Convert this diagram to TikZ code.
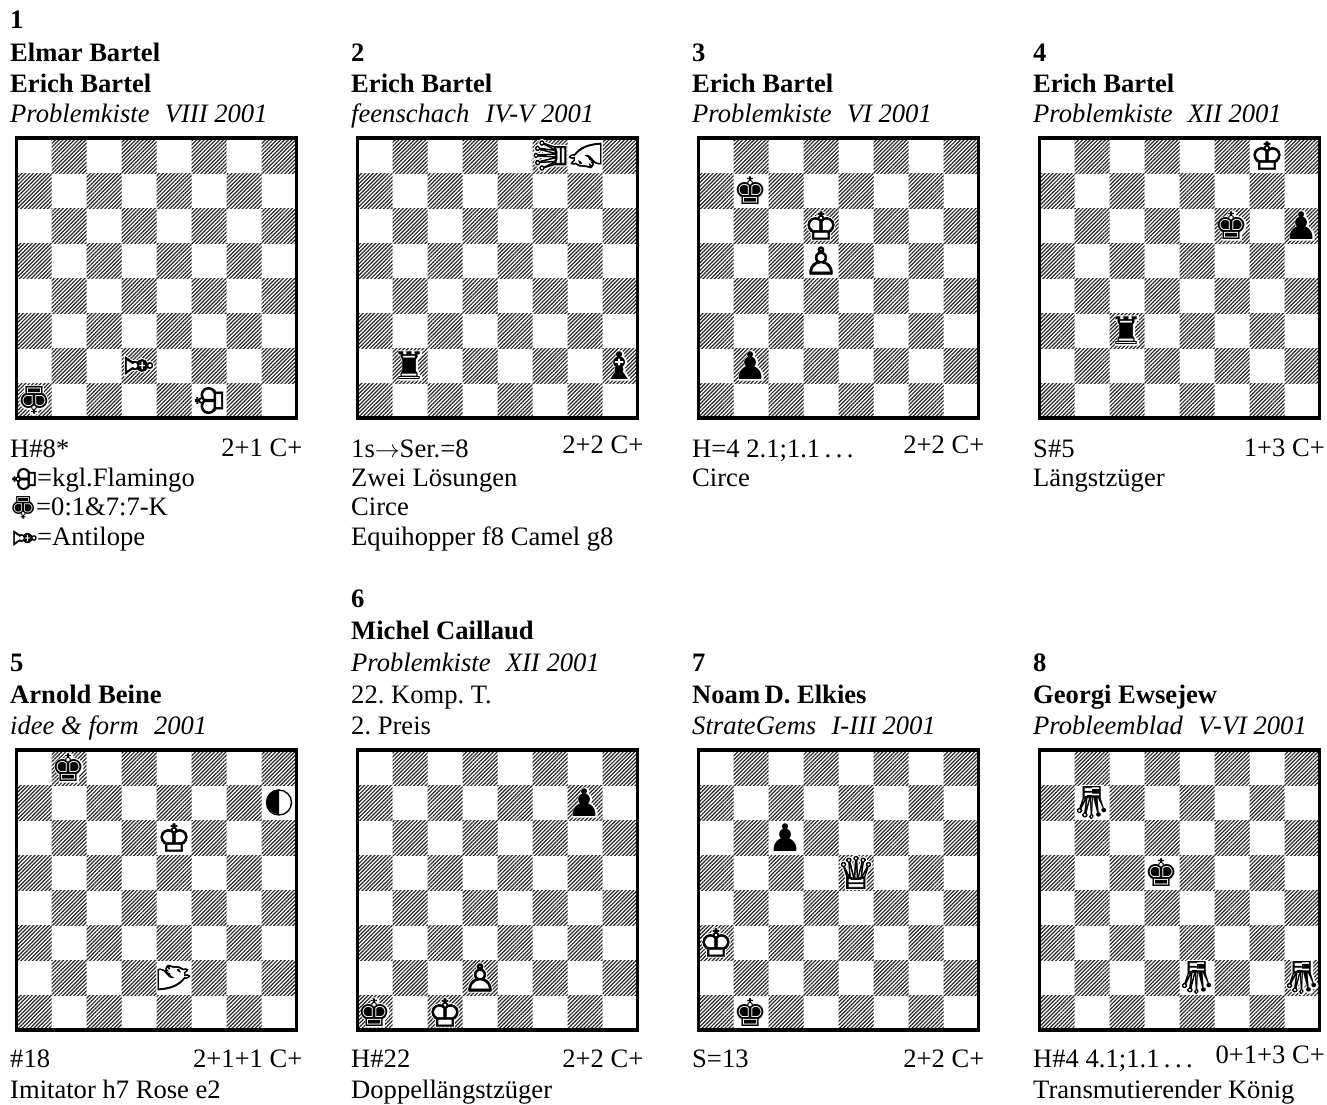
\documentclass[tikz,border=0pt]{standalone}
\usepackage{fontspec}
\setmainfont{Liberation Serif}
\newfontfamily\chessfont[FakeBold=1.6]{DejaVu Sans}
\newfontfamily\chessplain{DejaVu Sans}
\newfontfamily\chesshalo[FakeBold=7]{DejaVu Sans}
\usetikzlibrary{patterns.meta}
\frenchspacing

\tikzset{
    txt/.style={anchor=base west,inner sep=0pt,font=\fontsize{26.6}{30}\selectfont},
    bold/.style={txt,font=\fontsize{26.6}{30}\selectfont\bfseries},
    ital/.style={txt,font=\fontsize{26.6}{30}\selectfont\itshape},
    cnt/.style={txt,anchor=base east},
    pc/.style={inner sep=0pt,font=\chessfont\fontsize{38}{38}\selectfont},
    pcdark/.style={inner sep=0pt,font=\chessplain\fontsize{38}{38}\selectfont},
    pcback/.style={inner sep=0pt,text=white,font=\chesshalo\fontsize{38}{38}\selectfont},
    pcsmall/.style={inner sep=0pt,font=\chessfont\fontsize{31}{31}\selectfont},
    pcsmalldark/.style={inner sep=0pt,font=\chessplain\fontsize{31}{31}\selectfont},
    hatch/.style={pattern={Lines[angle=45,distance=2.7pt,line width=1.2pt]},pattern color=black!85}
}
\newcommand{\bigpc}{\fontsize{44}{44}\selectfont}
% one board: left edge, top edge
\newcommand{\bd}[2]{
    \foreach \cx in {0,...,7}{
      \foreach \ry in {0,...,7}{
        \pgfmathtruncatemacro\dk{mod(\cx+\ry,2)}
        \ifnum\dk=1 \fill[hatch,shift={(#1,#2)}] (35*\cx,35*\ry) rectangle ++(35,35); \fi
      }
    }
    \draw[line width=3.2pt,shift={(#1,#2)}] (0,0) rectangle (280,280);
}
% white piece: [rotation] column, row, solid glyph, glyph on top
\newcommand{\pcs}[5][0]{
    \node[pcback,rotate=#1] at (35*#2+17.5,35*#3+17.5){#4};
    \node[pc,rotate=#1] at (35*#2+17.5,35*#3+17.5){#5};
}
% black piece: [rotation] column, row, glyph
\newcommand{\pcd}[4][0]{
    \node[pcback,rotate=#1] at (35*#2+17.5,35*#3+17.5){#4};
    \node[pcdark,rotate=#1] at (35*#2+17.5,35*#3+17.5){#4};
}
% half white, half black queen standing on its head
\newcommand{\pcn}[2]{
    \node[pcback,rotate=180] at (35*#1+17.5,35*#2+17.5){\bigpc ♛};
    \begin{scope}
      \clip (35*#1,35*#2) rectangle ++(17.5,35);
      \node[pc,rotate=180] at (35*#1+17.5,35*#2+17.5){\bigpc ♕};
    \end{scope}
    \begin{scope}
      \clip (35*#1+17.5,35*#2) rectangle ++(17.5,35);
      \node[pcdark,rotate=180] at (35*#1+17.5,35*#2+17.5){\bigpc ♛};
    \end{scope}
}

\begin{document}
\begin{tikzpicture}[x=1pt,y=-1pt]
    \useasboundingbox (0,0) rectangle (1327,1104);
    \fill[white] (0,0) rectangle (1327,1104);
    \foreach \bx in {16.5,357.5,698.5,1039.5}{
      \bd{\bx}{138}
      \bd{\bx}{750}
    }

    \begin{scope}[shift={(16.5,138)}]
      \pcs[-90]{3}{6}{♝}{♗} \pcd[180]{0}{7}{♚} \pcs[90]{5}{7}{♚}{♔}
    \end{scope}
    \begin{scope}[shift={(357.5,138)}]
      \pcs[90]{5}{0}{\bigpc ♛}{\bigpc ♕} \pcs[90]{6}{0}{\bigpc ♞}{\bigpc ♘} \pcd{1}{6}{♜} \pcd{7}{6}{♝}
    \end{scope}
    \begin{scope}[shift={(698.5,138)}]
      \pcd{1}{1}{♚} \pcs{3}{2}{♚}{♔} \pcs{3}{3}{♟}{♙} \pcd{1}{6}{♟}
    \end{scope}
    \begin{scope}[shift={(1039.5,138)}]
      \pcs{6}{0}{♚}{♔} \pcd{5}{2}{♚} \pcd{7}{2}{♟} \pcd{2}{5}{♜}
    \end{scope}
    \begin{scope}[shift={(16.5,750)}]
      \pcd{1}{0}{♚} \pcs{4}{2}{♚}{♔} \pcs[-90]{4}{6}{\bigpc ♞}{\bigpc ♘}
      \node[circle,draw,line width=1.4pt,fill=white,minimum size=25pt,inner sep=0pt] (imit) at (262.5,52.5){};
      \fill (imit.north) arc[start angle=90,end angle=270,radius=12.5pt] -- cycle;
    \end{scope}
    \begin{scope}[shift={(357.5,750)}]
      \pcd{6}{1}{♟} \pcs{3}{6}{♟}{♙} \pcd{0}{7}{♚} \pcs{2}{7}{♚}{♔}
    \end{scope}
    \begin{scope}[shift={(698.5,750)}]
      \pcd{2}{2}{♟} \pcs{4}{3}{\bigpc ♛}{\bigpc ♕} \pcs{0}{5}{♚}{♔} \pcd{1}{7}{♚}
    \end{scope}
    \begin{scope}[shift={(1039.5,750)}]
      \pcn{1}{1} \pcd{3}{3}{♚} \pcn{4}{6} \pcn{7}{6}
    \end{scope}

    \node[bold] (n1) at (10,28){1};
    \node[bold] (a1a) at (10,61){Elmar Bartel};
    \node[bold] (a1b) at (10,92){Erich Bartel};
    \node[ital] (s1) at (10,122){Problemkiste\ \ \kern2pt VIII 2001};
    \node[txt] (st1) at (10,457){H\#8*};
    \node[cnt] (c1) at (302.5,456){2+1 C+};
    \node[pcsmall,rotate=90] (g1a) at (24,479){♔};
    \node[txt] (t1a) at (37,486){=kgl.Flamingo};
    \node[pcsmalldark,rotate=180] (g1b) at (24,508){♚};
    \node[txt] (t1b) at (36,515){=0:1\&7:7-K};
    \node[pcsmall,rotate=-90] (g1c) at (25,538){♗};
    \node[txt] (t1c) at (37,545){=Antilope};

    \node[bold] (n2) at (351,61){2};
    \node[bold] (a2) at (351,92){Erich Bartel};
    \node[ital] (s2) at (351,122){feenschach\ \ \kern3pt IV-V 2001};
    \node[txt] (st2) at (351,457){1s$\rightarrow$Ser.=8};
    \node[cnt] (c2) at (643.5,453){2+2 C+};
    \node[txt] (t2a) at (351,486){Zwei Lösungen};
    \node[txt] (t2b) at (351,515){Circe};
    \node[txt] (t2c) at (351,545){Equihopper f8 Camel g8};

    \node[bold] (n3) at (692,61){3};
    \node[bold] (a3) at (692,92){Erich Bartel};
    \node[ital] (s3) at (692,122){Problemkiste\ \ \kern2pt VI 2001};
    \node[txt] (st3) at (692,457){H=4 2.1;1.1\,.\,.\,.};
    \node[cnt] (c3) at (984.5,453){2+2 C+};
    \node[txt] (t3a) at (692,486){Circe};

    \node[bold] (n4) at (1033,61){4};
    \node[bold] (a4) at (1033,92){Erich Bartel};
    \node[ital] (s4) at (1033,122){Problemkiste\ \ \kern2pt XII 2001};
    \node[txt] (st4) at (1033,457){S\#5};
    \node[cnt] (c4) at (1325,456){1+3 C+};
    \node[txt] (t4a) at (1033,486){Längstzüger};

    \node[bold] (n5) at (10,671){5};
    \node[bold] (a5) at (10,703){Arnold Beine};
    \node[ital] (s5) at (10,734){idee \& form\ \ \kern2pt 2001};
    \node[txt] (st5) at (10,1067){\#18};
    \node[cnt] (c5) at (302.5,1067){2+1+1 C+};
    \node[txt] (t5a) at (10,1098){Imitator h7 Rose e2};

    \node[bold] (n6) at (351,607){6};
    \node[bold] (a6) at (351,639){Michel Caillaud};
    \node[ital] (s6) at (351,671){Problemkiste\ \ \kern2pt XII 2001};
    \node[txt] (d6a) at (351,703){22. Komp. T.};
    \node[txt] (d6b) at (351,734){2. Preis};
    \node[txt] (st6) at (351,1067){H\#22};
    \node[cnt] (c6) at (643.5,1067){2+2 C+};
    \node[txt] (t6a) at (351,1098){Doppellängstzüger};

    \node[bold] (n7) at (692,671){7};
    \node[bold] (a7) at (692,703){Noam\,D. Elkies};
    \node[ital] (s7) at (692,734){StrateGems\ \ \kern2pt I-III 2001};
    \node[txt] (st7) at (692,1067){S=13};
    \node[cnt] (c7) at (984.5,1067){2+2 C+};

    \node[bold] (n8) at (1033,671){8};
    \node[bold] (a8) at (1033,703){Georgi Ewsejew};
    \node[ital] (s8) at (1033,734){Probleemblad\ \ \kern2pt V-VI 2001};
    \node[txt] (st8) at (1033,1067){H\#4 4.1;1.1\,.\,.\,.};
    \node[cnt] (c8) at (1325,1063){0+1+3 C+};
    \node[txt] (t8a) at (1033,1098){Transmutierender König};
  \end{tikzpicture}
\end{document}
